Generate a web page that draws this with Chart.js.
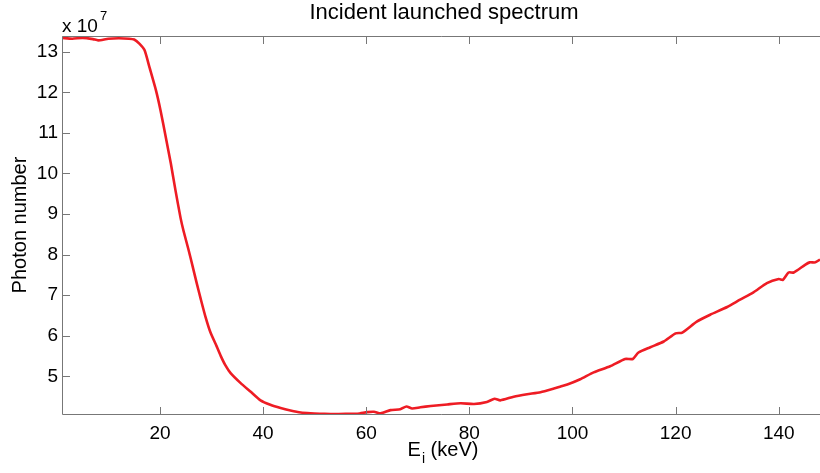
<!DOCTYPE html>
<html>
<head>
<meta charset="utf-8">
<script src="https://cdn.jsdelivr.net/npm/chart.js@4"></script>
<style>
  html, body { margin: 0; padding: 0; background: #fff; }
  #chart { display: block; }
</style>
</head>
<body>
<canvas id="chart" width="820" height="473"></canvas>
<script>
// incident energy (keV)
const energyKeV = [
  1, 3, 5, 7, 8, 10, 12, 14, 15, 16, 17, 18, 19.2, 20.1, 21.1, 22.1, 23.0, 24.0,
  24.6, 25.5, 26.3, 27.1, 27.9, 28.8, 29.8, 31.0, 31.8, 32.7, 33.7, 35.6, 37.6,
  39.5, 41.4, 43.4, 45.3, 47.3, 49.2, 51, 53.7, 56, 58.3, 60.2, 61.5, 62.8,
  64.7, 66.6, 67.8, 68.9, 70.5, 72.5, 75.7, 78.3, 80.9, 83.4, 84.9, 86, 88.6,
  91.2, 93.8, 96.4, 97.7, 99, 101.5, 104.1, 107.3, 110.2, 111.7, 112.8, 115.1,
  117.7, 120, 121.3, 124.1, 126.7, 130, 132.5, 135.1, 137.7, 140, 140.8, 141.9,
  142.9, 145.1, 146, 147.1, 148
];
// photon number, in units of 10^7
const photonsE7 = [
  13.34, 13.32, 13.34, 13.31, 13.28, 13.32, 13.33, 13.32, 13.30, 13.20, 13.04, 12.60, 12.06, 11.56, 10.91, 10.25, 9.59, 8.90,
  8.57, 8.14, 7.73, 7.31, 6.91, 6.48, 6.08, 5.74, 5.50, 5.27, 5.08, 4.84, 4.62,
  4.41, 4.30, 4.22, 4.16, 4.11, 4.09, 4.08, 4.07, 4.08, 4.08, 4.12, 4.13, 4.09,
  4.17, 4.19, 4.26, 4.21, 4.24, 4.27, 4.31, 4.34, 4.32, 4.37, 4.45, 4.41, 4.50,
  4.56, 4.61, 4.70, 4.75, 4.80, 4.93, 5.10, 5.25, 5.43, 5.43, 5.59, 5.72,
  5.86, 6.06, 6.08, 6.35, 6.52, 6.71, 6.89, 7.07, 7.30, 7.40, 7.38, 7.56,
  7.56, 7.75, 7.81, 7.81, 7.88
];
const xTicks = [20, 40, 60, 80, 100, 120, 140];
const yTicks = [5, 6, 7, 8, 9, 10, 11, 12, 13];
const scaleExponent = 7;

const FONT = "'Liberation Sans', Arial, sans-serif";
const AXIS_COLOR = "#777";

// MATLAB-like box: inward ticks, labels, title
const matlabAxes = {
  id: "matlabAxes",
  afterDatasetsDraw(chart) {
    const { ctx, chartArea: a, scales } = chart;
    ctx.save();
    ctx.strokeStyle = AXIS_COLOR;
    ctx.lineWidth = 1;
    ctx.beginPath();
    ctx.moveTo(a.left + 0.5, a.top + 0.5);
    ctx.lineTo(a.left + 0.5, a.bottom + 0.5);
    ctx.lineTo(a.right, a.bottom + 0.5);
    ctx.moveTo(a.left + 0.5, a.top + 0.5);
    ctx.lineTo(a.right, a.top + 0.5);
    xTicks.forEach((v) => {
      const x = Math.round(scales.x.getPixelForValue(v)) + 0.5;
      ctx.moveTo(x, a.bottom);
      ctx.lineTo(x, a.bottom - 7);
      ctx.moveTo(x, a.top + 1);
      ctx.lineTo(x, a.top + 8);
    });
    yTicks.forEach((v) => {
      const y = Math.round(scales.y.getPixelForValue(v)) + 0.5;
      ctx.moveTo(a.left + 1, y);
      ctx.lineTo(a.left + 8, y);
    });
    ctx.stroke();

    ctx.fillStyle = "#000";
    ctx.textBaseline = "alphabetic";
    // title
    ctx.font = "22px " + FONT;
    ctx.textAlign = "center";
    ctx.fillText("Incident launched spectrum", (a.left + a.right) / 2 + 3, 19);

    // exponent label
    ctx.textAlign = "left";
    ctx.font = "19px " + FONT;
    ctx.fillText("x 10", a.left, 32);
    const w = ctx.measureText("x 10").width;
    ctx.font = "13px " + FONT;
    ctx.fillText(String(scaleExponent), a.left + w + 2, 20);

    // x label with subscript
    const cx = (a.left + a.right) / 2 + 2;
    ctx.font = "20px " + FONT;
    const wE = ctx.measureText("E").width;
    ctx.font = "14px " + FONT;
    const wi = ctx.measureText("i").width;
    ctx.font = "20px " + FONT;
    const rest = " (keV)";
    const wr = ctx.measureText(rest).width;
    const x0 = cx - (wE + wi + 1 + wr) / 2;
    ctx.fillText("E", x0, 456);
    ctx.font = "14px " + FONT;
    ctx.fillText("i", x0 + wE + 1, 463);
    ctx.font = "20px " + FONT;
    ctx.fillText(rest, x0 + wE + wi + 1, 456);
    ctx.restore();
  }
};

new Chart(document.getElementById("chart"), {
  type: "scatter",
  data: {
    datasets: [{
      data: energyKeV.map((e, i) => ({ x: e, y: photonsE7[i] })),
      showLine: true,
      borderColor: "#ee1c24",
      borderWidth: 2.6,
      pointRadius: 0,
      tension: 0.2
    }]
  },
  options: {
    responsive: false,
    animation: false,
    devicePixelRatio: 1,
    layout: { padding: { top: 36, left: 0, right: 0, bottom: 0 } },
    plugins: { legend: { display: false }, tooltip: { enabled: false } },
    scales: {
      x: {
        type: "linear",
        min: 1,
        max: 148,
        grid: { display: false, drawTicks: false },
        border: { display: false },
        afterFit: (s) => { s.height = 59; },
        afterBuildTicks: (s) => { s.ticks = xTicks.map((v) => ({ value: v })); },
        ticks: {
          padding: 8,
          maxRotation: 0,
          color: "#000",
          font: { family: FONT, size: 19 }
        }
      },
      y: {
        type: "linear",
        min: 4.074,
        max: 13.387,
        grid: { display: false, drawTicks: false },
        border: { display: false },
        afterFit: (s) => { s.width = 62; },
        afterBuildTicks: (s) => { s.ticks = yTicks.map((v) => ({ value: v })); },
        title: {
          display: true,
          text: "Photon number",
          color: "#000",
          font: { family: FONT, size: 20 },
          padding: { top: 8, bottom: 0 }
        },
        ticks: {
          padding: 4,
          color: "#000",
          font: { family: FONT, size: 19 }
        }
      }
    }
  },
  plugins: [matlabAxes]
});
</script>
</body>
</html>
